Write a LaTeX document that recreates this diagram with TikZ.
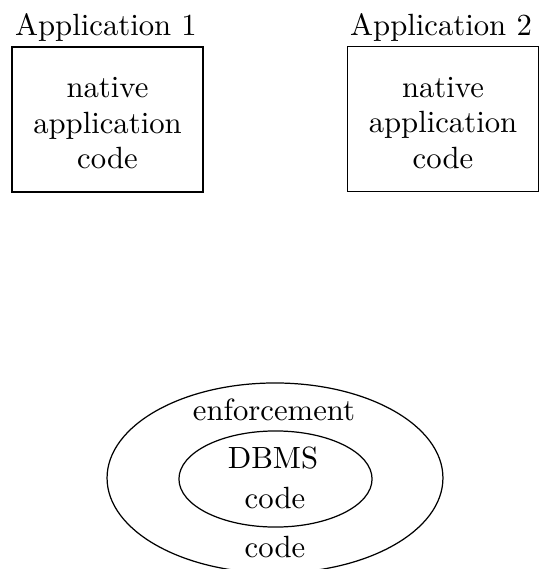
\documentclass[tikz,border=0pt]{standalone}
\usetikzlibrary{shapes.geometric}
\begin{document}
\begin{tikzpicture}[x=0.3257pt,y=-0.3257pt,
  appbox/.style={draw, minimum width=62.2pt, minimum height=47.2pt, align=center, inner sep=0pt, text height=32pt, text depth=0pt},
  lbl/.style={anchor=base, inner sep=0pt},
  ring/.style={draw, ellipse, inner sep=0pt}]
\useasboundingbox (0,0) rectangle (539,569);
% application boxes
\node[appbox] (box1) at (107.5,119.5) {native\\[-0.45pt]application\\[-0.45pt]code};
\node[lbl] (app1) at (106,35) {Application 1};
\node[appbox] (box2) at (443,119) {native\\[-0.45pt]application\\[-0.45pt]code};
\node[lbl] (app2) at (441,35) {Application 2};
% nested ellipses
\node[ring, minimum width=109.4pt, minimum height=61.9pt] (outer) at (275,478) {};
\node[ring, minimum width=62.9pt, minimum height=31.3pt] (inner) at (275.5,479) {};
\node[lbl] (enf) at (274,420) {enforcement};
\node[lbl] (dbms) at (273,468) {DBMS};
\node[lbl] (icode) at (275,508) {code};
\node[lbl] (ocode) at (275,557) {code};
\end{tikzpicture}
\end{document}
